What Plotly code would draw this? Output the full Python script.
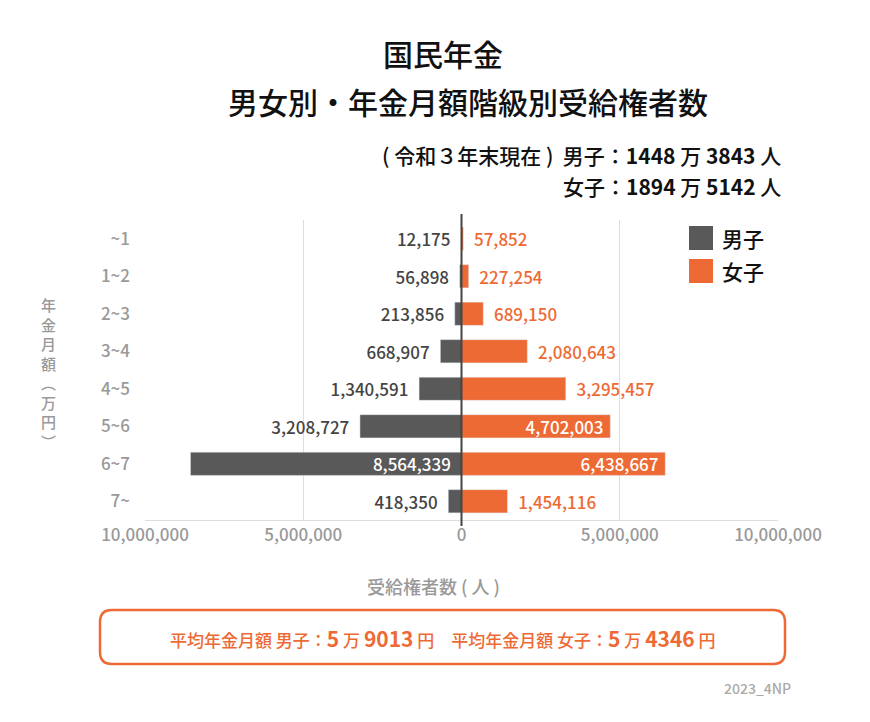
import plotly.graph_objects as go

categories = ["~1", "1~2", "2~3", "3~4", "4~5", "5~6", "6~7", "7~"]
male = [12175, 56898, 213856, 668907, 1340591, 3208727, 8564339, 418350]
female = [57852, 227254, 689150, 2080643, 3295457, 4702003, 6438667, 1454116]
male_pos = ["outside"] * 6 + ["inside", "outside"]
female_pos = ["outside"] * 5 + ["inside", "inside", "outside"]
tickvals = [-10000000, -5000000, 0, 5000000, 10000000]
ticktext = ["10,000,000", "5,000,000", "0", "5,000,000", "10,000,000"]

MC, FC = "#595959", "#EE6A35"
FONT = "Noto Sans CJK JP"
L, R, T, B = 137, 770, 212, 512
W, H = R - L, B - T
px = lambda x: (x - L) / W
py = lambda y: (B - y) / H

fig = go.Figure()
fig.add_bar(y=categories, x=[-v for v in male], orientation="h", marker_color=MC,
            text=[f" {v:,}  " for v in male], textposition=male_pos, insidetextanchor="start",
            textfont=dict(size=17, weight=500, color=["#444"] * 6 + ["white", "#444"]), cliponaxis=False,
            hoverinfo="skip", name="男子", width=0.62)
fig.add_bar(y=categories, x=female, orientation="h", marker_color=FC,
            text=[f"  {v:,} " for v in female], textposition=female_pos, insidetextanchor="end",
            textfont=dict(size=17, weight=500, color=[FC] * 5 + ["white", "white", FC]), cliponaxis=False,
            hoverinfo="skip", name="女子", width=0.62)

shapes = [dict(type="line", xref="x", yref="paper", x0=0, x1=0, y0=-0.02, y1=1.02,
               line=dict(color="#444", width=2))]
for i, c in enumerate([MC, FC]):
    yc = 230 + i * 33
    shapes.append(dict(type="rect", xref="paper", yref="paper", x0=px(681), x1=px(705),
                       y0=py(yc + 12), y1=py(yc - 12), fillcolor=c, line_width=0))
x0, x1, y0, y1 = px(92), px(777), py(656), py(602)
rx, ry = 12 / W, 12 / H
path = (f"M {x0+rx},{y1} L {x1-rx},{y1} Q {x1},{y1} {x1},{y1-ry} L {x1},{y0+ry} "
        f"Q {x1},{y0} {x1-rx},{y0} L {x0+rx},{y0} Q {x0},{y0} {x0},{y0+ry} "
        f"L {x0},{y1-ry} Q {x0},{y1} {x0+rx},{y1} Z")
shapes.append(dict(type="path", xref="paper", yref="paper", path=path,
                   line=dict(color=FC, width=2.5)))

ann = []
def a(x, y, text, size, color="#111", xanchor="center", weight=500):
    ann.append(dict(xref="paper", yref="paper", x=px(x), y=py(y), text=text, showarrow=False,
                    xanchor=xanchor, yanchor="middle",
                    font=dict(size=size, color=color, family=FONT, weight=weight)))
a(435, 45, "国民年金", 30)
a(460, 93, "男女別・年金月額階級別受給権者数", 30)
a(775, 147, "( 令和３年末現在 )  男子：<b>1448</b> 万 <b>3843</b> 人", 21, xanchor="right")
a(775, 178, "女子：<b>1894</b> 万 <b>5142</b> 人", 21, xanchor="right")
a(712, 230, "男子", 21, xanchor="left")
a(712, 263, "女子", 21, xanchor="left")
a(40, 365, "<br>".join(list("年金月額︵万円︶")), 15, color="#999")
a(425, 578, "受給権者数 ( 人 )", 18, color="#999")
a(435, 630, "平均年金月額 男子：<span style='font-size:21px'><b>5</b></span> 万 <span style='font-size:21px'><b>9013</b></span> 円　"
           "平均年金月額 女子：<span style='font-size:21px'><b>5</b></span> 万 <span style='font-size:21px'><b>4346</b></span> 円",
  17, color=FC)
a(785, 680, "2023_4NP", 14, color="#aaa", xanchor="right")

fig.update_layout(
    width=870, height=722, margin=dict(l=L, r=870 - R, t=T, b=722 - B, autoexpand=False),
    paper_bgcolor="white", plot_bgcolor="white", barmode="overlay", showlegend=False,
    font=dict(family=FONT), shapes=shapes, annotations=ann,
    uniformtext=dict(minsize=17, mode="show"),
    xaxis=dict(range=[-10000000, 10000000], tickvals=tickvals, ticktext=ticktext, automargin=False,
               showgrid=True, gridcolor="#ddd", zeroline=False, showline=True, linecolor="#ddd",
               tickfont=dict(size=17, color="#999", weight=500), fixedrange=True),
    yaxis=dict(autorange="reversed", tickfont=dict(size=17, color="#999", weight=500), ticks="",
               ticklabelstandoff=14, showgrid=False, automargin=False),
)
fig.write_html("out.html")
